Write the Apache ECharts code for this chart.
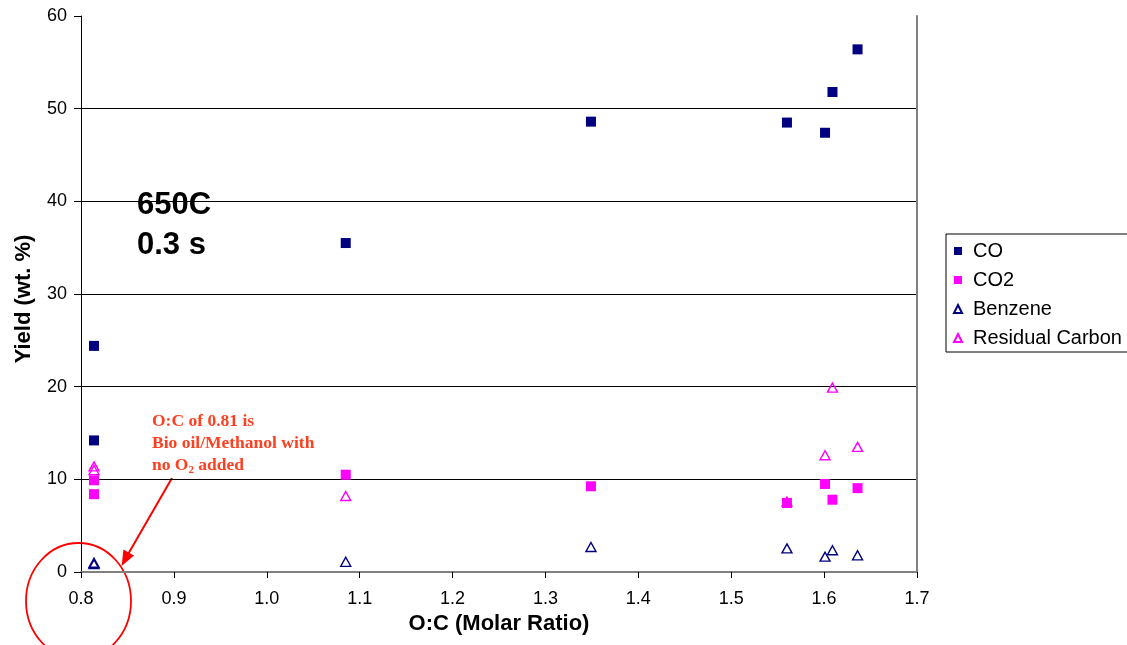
<!DOCTYPE html>
<html>
<head>
<meta charset="utf-8">
<script src="https://cdn.jsdelivr.net/npm/echarts@6/dist/echarts.min.js"></script>
<style>
html,body{margin:0;padding:0;background:#fff;}
#chart{width:1127px;height:645px;}
</style>
</head>
<body>
<div id="chart"></div>
<script>
// ---- data ----
const xTicks = [0.8, 0.9, 1.0, 1.1, 1.2, 1.3, 1.4, 1.5, 1.6, 1.7];
const yTicks = [0, 10, 20, 30, 40, 50, 60];

const coX   = [0.814, 0.814, 1.085, 1.349, 1.560, 1.601, 1.609, 1.636];
const coY   = [24.4, 14.2, 35.5, 48.6, 48.5, 47.4, 51.8, 56.4];

const co2X  = [0.814, 0.814, 1.085, 1.349, 1.560, 1.601, 1.609, 1.636];
const co2Y  = [9.9, 8.4, 10.5, 9.25, 7.45, 9.5, 7.8, 9.05];

const benX  = [0.814, 0.814, 1.085, 1.349, 1.560, 1.601, 1.609, 1.636];
const benY  = [1.0, 0.85, 1.1, 2.7, 2.55, 1.65, 2.35, 1.8];

const rcX   = [0.814, 0.814, 1.085, 1.560, 1.601, 1.609, 1.636];
const rcY   = [11.4, 11.0, 8.2, 7.6, 12.6, 19.9, 13.5];

const seriesNames = ['CO', 'CO2', 'Benzene', 'Residual Carbon'];

function pairs(xs, ys) { return xs.map((x, i) => [x, ys[i]]); }

const FONT = '"Liberation Sans", Arial, sans-serif';
const NAVY = '#000080';
const MAG = '#ff00ff';

const chart = echarts.init(document.getElementById('chart'), null, {renderer: 'canvas'});

const option = {
  animation: false,
  backgroundColor: '#ffffff',
  grid: { left: 81, top: 16, right: 210, bottom: 73, containLabel: false, outerBoundsMode: 'none' },
  xAxis: [{
    type: 'value', min: xTicks[0], max: xTicks[xTicks.length - 1], interval: 0.1,
    name: 'O:C (Molar Ratio)', nameLocation: 'middle', nameGap: 40,
    nameTextStyle: { fontFamily: FONT, fontSize: 22, fontWeight: 'bold', color: '#000' },
    axisLine: { show: true, onZero: false, lineStyle: { color: '#000', width: 1 } },
    axisTick: { show: true, inside: false, length: 6, lineStyle: { color: '#000' } },
    axisLabel: { fontFamily: FONT, fontSize: 18, color: '#000', margin: 18,
      formatter: v => v.toFixed(1) },
    splitLine: { show: false }
  }, {
    type: 'value', position: 'top', min: xTicks[0], max: xTicks[xTicks.length - 1], interval: 0.1,
    axisLine: { show: true, lineStyle: { color: '#808080', width: 2 } },
    axisTick: { show: false }, axisLabel: { show: false }, splitLine: { show: false }
  }],
  yAxis: [{
    type: 'value', min: yTicks[0], max: yTicks[yTicks.length - 1], interval: 10,
    name: 'Yield (wt. %)', nameLocation: 'middle', nameGap: 46, nameRotate: 90,
    nameTextStyle: { fontFamily: FONT, fontSize: 22, fontWeight: 'bold', color: '#000',
      padding: [0, 10, 0, 0] },
    axisLine: { show: true, onZero: false, lineStyle: { color: '#000', width: 1 } },
    axisTick: { show: true, inside: false, length: 7, lineStyle: { color: '#000' } },
    axisLabel: { fontFamily: FONT, fontSize: 18, color: '#000', margin: 14 },
    splitLine: { show: true, showMaxLine: false, lineStyle: { color: '#000', width: 1 } }
  }, {
    type: 'value', position: 'right', min: yTicks[0], max: yTicks[yTicks.length - 1], interval: 10,
    axisLine: { show: true, lineStyle: { color: '#808080', width: 2 } },
    axisTick: { show: false }, axisLabel: { show: false }, splitLine: { show: false }
  }],
  legend: {
    orient: 'vertical', left: 946, top: 234,
    padding: [7, 20, 4, 7], itemGap: 9, itemWidth: 8, itemHeight: 8,
    backgroundColor: '#fff', borderColor: '#000', borderWidth: 1, borderRadius: 0,
    textStyle: { fontFamily: FONT, fontSize: 20, color: '#000', lineHeight: 20, padding: [0, 0, 0, 6] },
    selectedMode: false,
    data: [
      { name: seriesNames[0], icon: 'rect' },
      { name: seriesNames[1], icon: 'rect' },
      { name: seriesNames[2], icon: 'triangle' },
      { name: seriesNames[3], icon: 'triangle' }
    ]
  },
  series: [
    { name: seriesNames[0], type: 'scatter', symbol: 'rect', symbolSize: 10,
      itemStyle: { color: NAVY, opacity: 1 }, data: pairs(coX, coY), silent: true },
    { name: seriesNames[1], type: 'scatter', symbol: 'rect', symbolSize: 10,
      itemStyle: { color: MAG, opacity: 1 }, data: pairs(co2X, co2Y), silent: true },
    { name: seriesNames[2], type: 'scatter', symbol: 'triangle', symbolSize: [10, 9],
      itemStyle: { color: 'rgba(255,255,255,0)', borderColor: NAVY, borderWidth: 1.4, opacity: 1 },
      data: pairs(benX, benY), silent: true },
    { name: seriesNames[3], type: 'scatter', symbol: 'triangle', symbolSize: [10, 9],
      itemStyle: { color: 'rgba(255,255,255,0)', borderColor: MAG, borderWidth: 1.4, opacity: 1 },
      data: pairs(rcX, rcY), silent: true }
  ],
  graphic: [
    { type: 'text', left: 137, top: 185, silent: true,
      style: { text: '650C\n0.3 s', fontFamily: FONT, fontSize: 31, fontWeight: 'bold',
        fill: '#000', lineHeight: 40 } },
    { type: 'text', left: 152, top: 411, silent: true,
      style: {
        text: 'O:C of 0.81 is\nBio oil/Methanol with\nno O{sub|2} added',
        fontFamily: '"Liberation Serif", "Times New Roman", serif', fontSize: 17.5,
        fontWeight: 'bold', fill: '#ff4020', lineHeight: 21.7,
        rich: { sub: { fontFamily: '"Liberation Serif", "Times New Roman", serif',
          fontSize: 11, fontWeight: 'bold', fill: '#ff4020', padding: [9, 0, 0, 0] } }
      } },
    { type: 'line', silent: true,
      shape: { x1: 172, y1: 478, x2: 127, y2: 556 },
      style: { stroke: '#ff0000', lineWidth: 2 } },
    { type: 'polygon', silent: true,
      shape: { points: [[121.7, 566], [134.0, 555.4], [123.4, 549.4]] },
      style: { fill: '#ff0000' } },
    { type: 'ellipse', silent: true,
      shape: { cx: 78.5, cy: 601, rx: 52.5, ry: 58 },
      style: { fill: 'none', stroke: '#ff0000', lineWidth: 1.8 } }
  ]
};
chart.setOption(option);
</script>
</body>
</html>
